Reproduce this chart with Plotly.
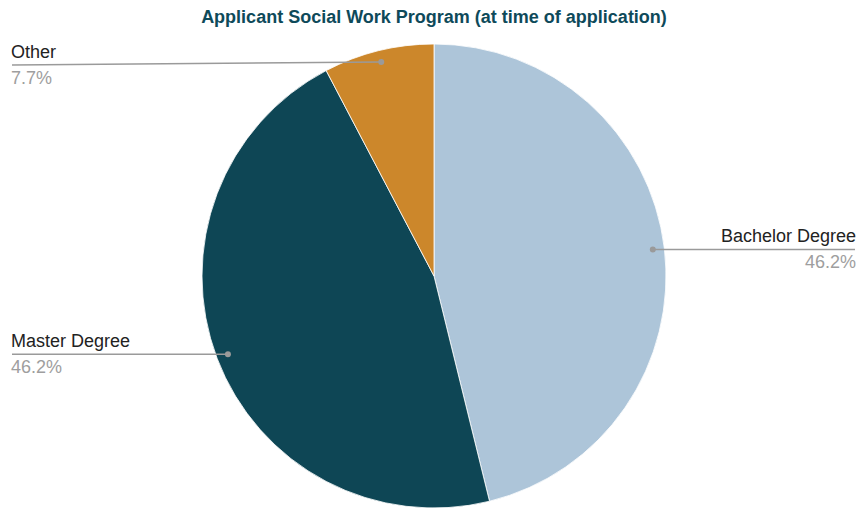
import math
import plotly.graph_objects as go

# Data
categories = ["Bachelor Degree", "Master Degree", "Other"]
counts = [6, 6, 1]
colors = ["#adc5d9", "#0e4655", "#cc872b"]
title_text = "Applicant Social Work Program (at time of application)"

W, H = 859, 508
CX, CY, R = 434, 276, 232  # pie geometry in pixels (layout)
FONT = "Liberation Sans, Arial, sans-serif"

def px(x):
    return x / W

def py(y):
    return 1 - y / H

fig = go.Figure()
fig.add_trace(go.Pie(
    labels=categories,
    values=counts,
    marker=dict(colors=colors, line=dict(color="white", width=0.8)),
    sort=False,
    direction="clockwise",
    rotation=0,
    textinfo="none",
    hoverinfo="label+percent+value",
    showlegend=False,
    domain=dict(x=[px(CX - R), px(CX + R)], y=[py(CY + R), py(CY - R)]),
))

total = sum(counts)
cum = 0
shapes = []
annotations = []
for lab, v in zip(categories, counts):
    frac = v / total
    mid = (cum + frac / 2) * 2 * math.pi
    cum += frac
    dx = math.sin(mid) * R * 0.95
    dy = -math.cos(mid) * R * 0.95
    dot_x, dot_y = CX + dx, CY + dy
    line_y = max(dot_y, 65)
    right = dx > 0
    end_x = 855 if right else 12
    pct = f"{frac*100:.1f}%"
    shapes.append(dict(type="line", xref="paper", yref="paper",
                       x0=px(dot_x), y0=py(dot_y), x1=px(end_x), y1=py(line_y),
                       line=dict(color="#9a9a9a", width=1.5)))
    shapes.append(dict(type="circle", xref="paper", yref="paper",
                       x0=px(dot_x - 3), x1=px(dot_x + 3),
                       y0=py(dot_y + 3), y1=py(dot_y - 3),
                       fillcolor="#9a9a9a", line=dict(width=0)))
    anchor = "right" if right else "left"
    annotations.append(dict(xref="paper", yref="paper", x=px(end_x), y=py(line_y - 1),
                            text=lab, showarrow=False, xanchor=anchor, yanchor="bottom",
                            xshift=(3 if right else -3),
                            font=dict(family=FONT, size=18, color="#222222")))
    annotations.append(dict(xref="paper", yref="paper", x=px(end_x), y=py(line_y + 1),
                            text=pct, showarrow=False, xanchor=anchor, yanchor="top",
                            xshift=(3 if right else -3),
                            font=dict(family=FONT, size=18, color="#9e9e9e")))

fig.update_layout(
    width=W, height=H,
    margin=dict(l=0, r=0, t=0, b=0),
    paper_bgcolor="white",
    plot_bgcolor="white",
    title=dict(text=f"<b>{title_text}</b>", x=px(CX), xanchor="center",
               y=py(17), yanchor="middle",
               font=dict(family=FONT, size=18, color="#0e4a5a")),
    shapes=shapes,
    annotations=annotations,
)

fig.write_html("out.html", config={"displayModeBar": False},
               post_script="document.body.style.margin='0';document.body.style.overflow='hidden';")
